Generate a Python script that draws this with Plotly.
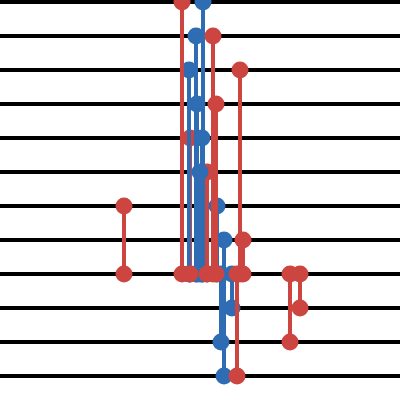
import plotly.graph_objects as go

RED = "#cc4540"
BLUE = "#2e6db4"

# vertical segments: position, start level, end level
red_back_x = [47.5, 51.75]
red_back_top = [4, 3]
red_back_bottom = [0, 0]

blue_x = [50.75, 49.0, 47.25, 49.25, 50.5, 50.0, 54.25, 56.0, 55.25, 58.0]
blue_top = [8, 7, 6, 5, 4, 3, 2, 1, 0, 0]
blue_bottom = [0, 0, 0, 0, 0, 0, 0, -3, -2, -1]

red_x = [31.0, 45.5, 53.25, 54.0, 60.0, 60.75, 59.25, 72.5, 75.0]
red_top = [2, 8, 7, 5, 6, 1, 0, 0, 0]
red_bottom = [0, 0, 0, 0, 0, 0, -3, -2, -1]


def _segments(xs, tops, bottoms):
    x, y = [], []
    for xi, a, b in zip(xs, tops, bottoms):
        x += [xi, xi, None]
        y += [a, b, None]
    return x, y


fig = go.Figure()
for xs, tops, bottoms, color in [
    (red_back_x, red_back_top, red_back_bottom, RED),
    (blue_x, blue_top, blue_bottom, BLUE),
    (red_x, red_top, red_bottom, RED),
]:
    x, y = _segments(xs, tops, bottoms)
    fig.add_trace(
        go.Scatter(
            x=x,
            y=y,
            mode="lines+markers",
            line=dict(color=color, width=4),
            marker=dict(color=color, size=17),
            showlegend=False,
            hoverinfo="skip",
        )
    )

# baseline ends of the back red segments sit on top of the blue ones
fig.add_trace(
    go.Scatter(
        x=red_back_x,
        y=red_back_bottom,
        mode="markers",
        marker=dict(color=RED, size=17),
        showlegend=False,
        hoverinfo="skip",
    )
)

fig.update_layout(
    width=400,
    height=400,
    plot_bgcolor="white",
    paper_bgcolor="white",
    margin=dict(l=0, r=0, t=0, b=0),
)
fig.update_xaxes(range=[0, 100], visible=False)
fig.update_yaxes(
    range=[-3.706, 8.059],
    dtick=1,
    showgrid=True,
    gridcolor="black",
    gridwidth=4,
    zeroline=True,
    zerolinecolor="black",
    zerolinewidth=4,
    showticklabels=False,
    ticks="",
)

fig.write_html(
    "out.html",
    config={"displayModeBar": False},
    post_script="document.body.style.margin='0';",
)
